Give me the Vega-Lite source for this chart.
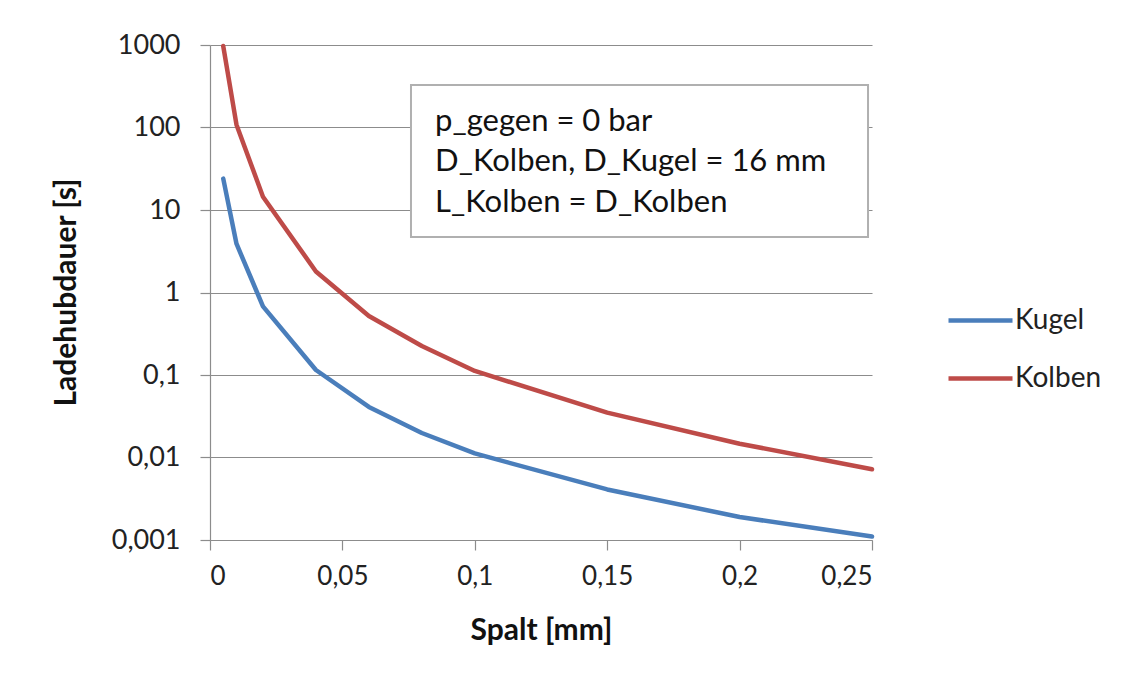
{
  "$schema": "https://vega.github.io/schema/vega-lite/v6.json",
  "width": 662,
  "height": 495,
  "autosize": "none",
  "padding": {"left": 210, "top": 45, "right": 258, "bottom": 140},
  "background": "white",
  "config": {
    "font": "Lato",
    "view": {"stroke": null},
    "axis": {
      "labelFont": "Lato", "titleFont": "Lato",
      "labelColor": "#222222", "titleColor": "#111111",
      "domainColor": "#8c8c8c", "tickColor": "#8c8c8c", "gridColor": "#8c8c8c",
      "domainWidth": 1.2, "tickWidth": 1.2, "gridWidth": 1.2
    }
  },
  "datasets": {
    "curves": [
      {"Serie": "Kugel", "Spalt": 0.005, "Dauer": 24},
      {"Serie": "Kugel", "Spalt": 0.01, "Dauer": 3.9},
      {"Serie": "Kugel", "Spalt": 0.02, "Dauer": 0.68},
      {"Serie": "Kugel", "Spalt": 0.04, "Dauer": 0.115},
      {"Serie": "Kugel", "Spalt": 0.06, "Dauer": 0.041},
      {"Serie": "Kugel", "Spalt": 0.08, "Dauer": 0.0198},
      {"Serie": "Kugel", "Spalt": 0.1, "Dauer": 0.0112},
      {"Serie": "Kugel", "Spalt": 0.15, "Dauer": 0.0041},
      {"Serie": "Kugel", "Spalt": 0.2, "Dauer": 0.0019},
      {"Serie": "Kugel", "Spalt": 0.25, "Dauer": 0.0011},
      {"Serie": "Kolben", "Spalt": 0.005, "Dauer": 970},
      {"Serie": "Kolben", "Spalt": 0.01, "Dauer": 108},
      {"Serie": "Kolben", "Spalt": 0.02, "Dauer": 14.5},
      {"Serie": "Kolben", "Spalt": 0.04, "Dauer": 1.8},
      {"Serie": "Kolben", "Spalt": 0.06, "Dauer": 0.52},
      {"Serie": "Kolben", "Spalt": 0.08, "Dauer": 0.225},
      {"Serie": "Kolben", "Spalt": 0.1, "Dauer": 0.112},
      {"Serie": "Kolben", "Spalt": 0.15, "Dauer": 0.035},
      {"Serie": "Kolben", "Spalt": 0.2, "Dauer": 0.0147},
      {"Serie": "Kolben", "Spalt": 0.25, "Dauer": 0.0072}
    ],
    "box": [{"x1": 0.0759, "x2": 0.2485, "y1": 327, "y2": 4.7}],
    "notes": [
      {"x": 0.085, "y": 117, "text": "p_gegen = 0 bar"},
      {"x": 0.085, "y": 38, "text": "D_Kolben, D_Kugel = 16 mm"},
      {"x": 0.085, "y": 12.2, "text": "L_Kolben = D_Kolben"}
    ]
  },
  "layer": [
    {
      "data": {"name": "curves"},
      "mark": {"type": "line", "strokeWidth": 4.5, "strokeCap": "round", "strokeJoin": "round"},
      "encoding": {
        "x": {
          "field": "Spalt", "type": "quantitative",
          "scale": {"domain": [0, 0.25], "nice": false, "zero": false},
          "axis": {
            "title": "Spalt [mm]", "titleFontSize": 30, "titleFontWeight": "bold",
            "titleX": 331, "titleY": 90, "titleBaseline": "middle", "titleAlign": "center",
            "values": [0, 0.05, 0.1, 0.15, 0.2, 0.25],
            "labelExpr": "replace(format(datum.value, '.2~f'), '.', ',')",
            "labelFontSize": 26, "labelPadding": 13, "tickSize": 10, "grid": false
          }
        },
        "y": {
          "field": "Dauer", "type": "quantitative",
          "scale": {"type": "log", "domain": [0.001, 1000], "nice": false},
          "axis": {
            "title": "Ladehubdauer [s]", "titleFontSize": 30, "titleFontWeight": "bold",
            "titleX": -144, "titleY": 247, "titleBaseline": "middle", "titleAlign": "center",
            "values": [0.001, 0.01, 0.1, 1, 10, 100, 1000],
            "labelExpr": "replace(format(datum.value, '~g'), '.', ',')",
            "labelFontSize": 27, "labelPadding": 20, "tickSize": 10, "grid": true
          }
        },
        "color": {
          "field": "Serie", "type": "nominal",
          "scale": {"domain": ["Kugel", "Kolben"], "range": ["#4A7EBB", "#BE4B48"]},
          "legend": {
            "title": null, "orient": "none", "legendX": 736, "legendY": 241,
            "symbolType": "stroke", "symbolSize": 4096, "symbolStrokeWidth": 4.5,
            "labelFontSize": 28, "labelFont": "Lato", "labelColor": "#222222",
            "labelOffset": 0, "rowPadding": 9
          }
        }
      }
    },
    {
      "data": {"name": "box"},
      "mark": {"type": "rect", "fill": "white", "stroke": "#b0b0b0", "strokeWidth": 2},
      "encoding": {
        "x": {"field": "x1", "type": "quantitative"},
        "x2": {"field": "x2"},
        "y": {"field": "y1", "type": "quantitative"},
        "y2": {"field": "y2"}
      }
    },
    {
      "data": {"name": "notes"},
      "mark": {"type": "text", "align": "left", "baseline": "middle", "fontSize": 31, "font": "Lato", "color": "#111111"},
      "encoding": {
        "x": {"field": "x", "type": "quantitative"},
        "y": {"field": "y", "type": "quantitative"},
        "text": {"field": "text"}
      }
    }
  ]
}
